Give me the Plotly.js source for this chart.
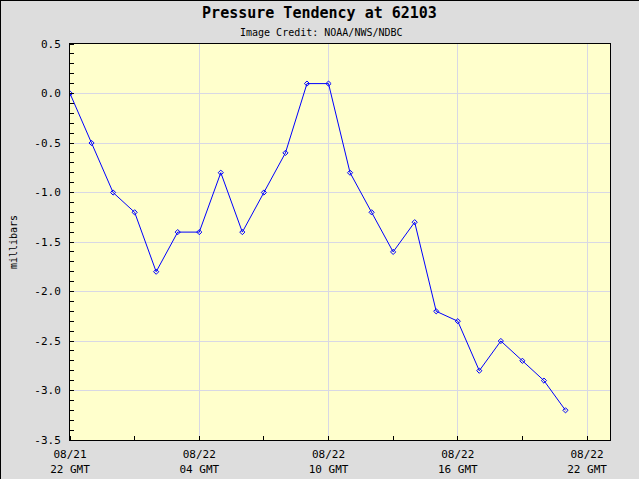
<!DOCTYPE html>
<html>
<head>
<meta charset="utf-8">
<script src="https://cdn.plot.ly/plotly-3.0.1.min.js"></script>
<style>
html,body{margin:0;padding:0;background:#dddddd;}
#frame{position:absolute;left:0;top:0;width:639px;height:479px;box-sizing:border-box;border-top:1px solid #000;border-left:1px solid #000;}
#chart{position:absolute;left:0;top:0;width:639px;height:479px;}
</style>
</head>
<body>
<div id="chart"></div>
<div id="frame"></div>
<script>
// Hourly observation times (GMT)
var times = [
  "2024-08-21 22:00","2024-08-21 23:00","2024-08-22 00:00","2024-08-22 01:00",
  "2024-08-22 02:00","2024-08-22 03:00","2024-08-22 04:00","2024-08-22 05:00",
  "2024-08-22 06:00","2024-08-22 07:00","2024-08-22 08:00","2024-08-22 09:00",
  "2024-08-22 10:00","2024-08-22 11:00","2024-08-22 12:00","2024-08-22 13:00",
  "2024-08-22 14:00","2024-08-22 15:00","2024-08-22 16:00","2024-08-22 17:00",
  "2024-08-22 18:00","2024-08-22 19:00","2024-08-22 20:00","2024-08-22 21:00"
];
// Pressure tendency (millibars)
var tendency = [
  0.0, -0.5, -1.0, -1.2, -1.8, -1.4, -1.4, -0.8,
  -1.4, -1.0, -0.6, 0.1, 0.1, -0.8, -1.2, -1.6,
  -1.3, -2.2, -2.3, -2.8, -2.5, -2.7, -2.9, -3.2
];
var xTickVals = ["2024-08-21 22:00","2024-08-22 04:00","2024-08-22 10:00","2024-08-22 16:00","2024-08-22 22:00"];
var xTickText = ["08/21<br>22 GMT","08/22<br>04 GMT","08/22<br>10 GMT","08/22<br>16 GMT","08/22<br>22 GMT"];
var yTickVals = [0.5, 0.0, -0.5, -1.0, -1.5, -2.0, -2.5, -3.0, -3.5];
var yTickText = ["0.5","0.0","-0.5","-1.0","-1.5","-2.0","-2.5","-3.0","-3.5"];

var font = "DejaVu Sans Mono, monospace";

var trace = {
  x: times, y: tendency, type: "scatter", mode: "lines+markers",
  line: {color: "#0000ff", width: 1},
  marker: {symbol: "diamond-open", size: 4, color: "#0000ff", line: {width: 1, color: "#0000ff"}},
  hoverinfo: "skip"
};

var layout = {
  width: 639, height: 479,
  paper_bgcolor: "#dddddd", plot_bgcolor: "#ffffcc",
  margin: {l: 70, r: 29, t: 44, b: 39, pad: 0},
  showlegend: false,
  font: {family: font, size: 11, color: "#000"},
  title: {text: "<b>Pressure Tendency at 62103</b>", x: 0.5, xref: "container", xanchor: "center", y: 0.985, yref: "container", yanchor: "top",
          font: {family: font, size: 15, color: "#000"}},
  annotations: [{
    text: "Image Credit: NOAA/NWS/NDBC", xref: "paper", yref: "paper", x: 0.465, y: 1.0, xanchor: "center", yanchor: "bottom",
    yshift: 4, showarrow: false, font: {family: font, size: 10, color: "#000"}
  }],
  xaxis: {
    type: "date", range: ["2024-08-21 22:00", "2024-08-22 23:04"],
    tickvals: xTickVals, ticktext: xTickText,
    showgrid: true, gridcolor: "#d8d8e4", gridwidth: 1,
    showline: true, linecolor: "#000", linewidth: 1, mirror: true,
    ticks: "", zeroline: false, ticklabelstandoff: 4,
    tickfont: {family: font, size: 11, color: "#000"},
    minor: {dtick: 3*3600*1000, tick0: "2024-08-21 22:00", ticks: "inside", ticklen: 4, tickcolor: "#000", showgrid: false}
  },
  yaxis: {
    range: [-3.5, 0.5], tickvals: yTickVals, ticktext: yTickText,
    showgrid: true, gridcolor: "#d8d8e4", gridwidth: 1,
    showline: true, linecolor: "#000", linewidth: 1, mirror: true,
    ticks: "", zeroline: false, ticklabelstandoff: 6,
    tickfont: {family: font, size: 11, color: "#000"},
    title: {text: "millibars", font: {family: font, size: 10, color: "#000"}, standoff: 14},
    minor: {dtick: 0.1, ticks: "inside", ticklen: 4, tickcolor: "#000", showgrid: false}
  }
};

Plotly.newPlot("chart", [trace], layout, {displayModeBar: false, staticPlot: true});
</script>
</body>
</html>
